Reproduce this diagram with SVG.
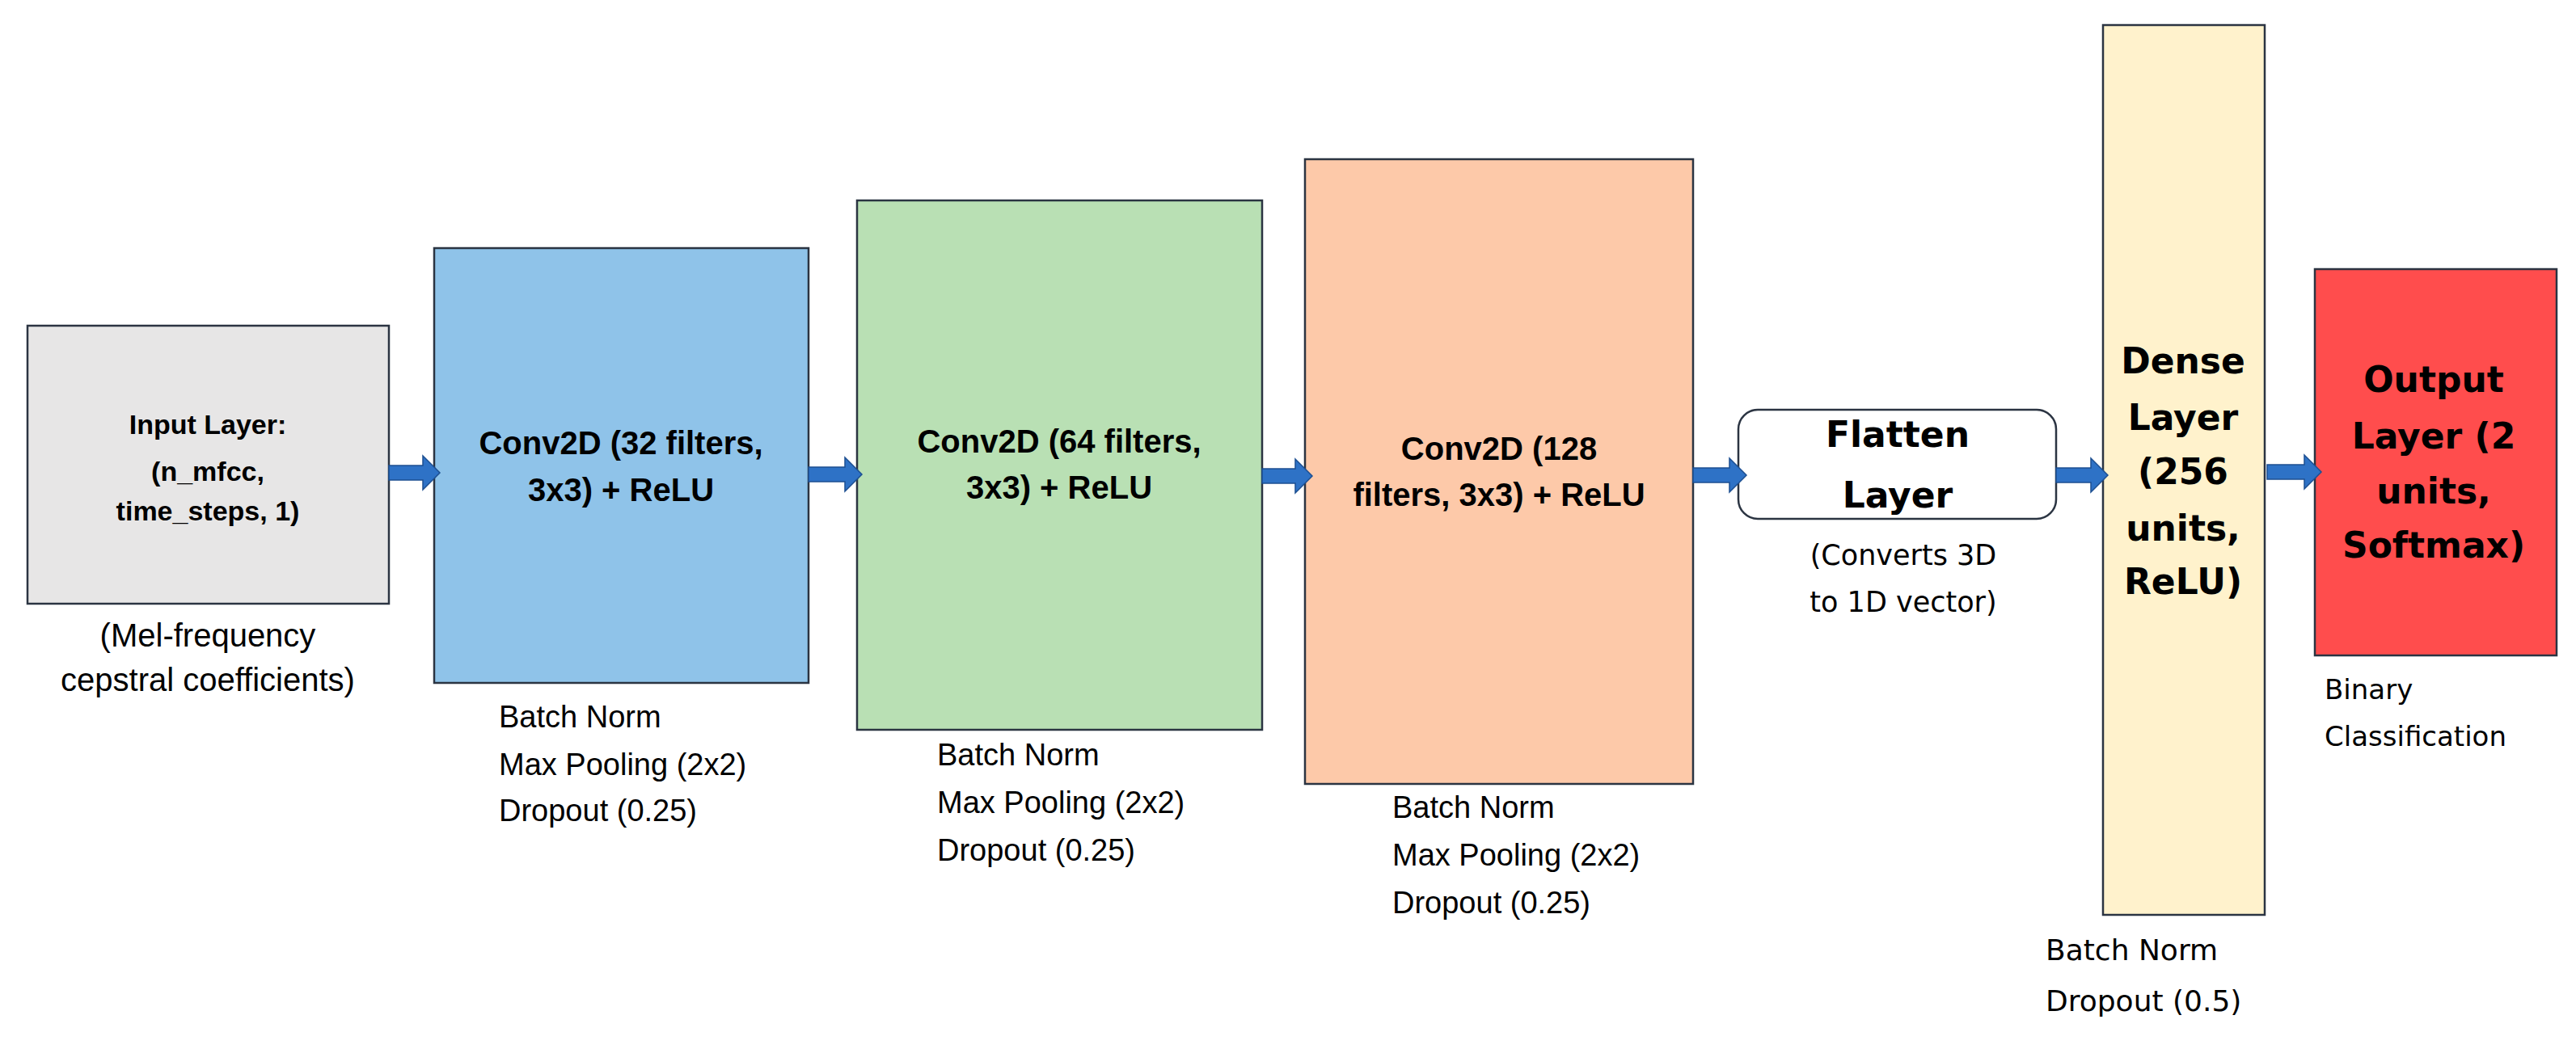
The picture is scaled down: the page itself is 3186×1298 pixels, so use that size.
<svg xmlns="http://www.w3.org/2000/svg" width="3186" height="1298" viewBox="0 0 3186 1298">
<style>
.box{stroke:#2b3442;stroke-width:2.5}
.c{font-family:"Liberation Sans",Arial,sans-serif;fill:#000}
.b{font-weight:bold}
.v{font-family:"DejaVu Sans",Verdana,sans-serif;fill:#000}
.arr{fill:#2e72c6;stroke:#1d4f91;stroke-width:1.5}
</style>
<rect width="3186" height="1298" fill="#fff"/>
<g id="input">
<rect class="box" x="34" y="403" width="447" height="344" fill="#e7e6e6"/>
<g class="c b" font-size="34" text-anchor="middle">
<text x="257" y="537">Input Layer:</text>
<text x="257" y="595">(n_mfcc,</text>
<text x="257" y="644">time_steps, 1)</text>
</g>
<g class="c" font-size="40" text-anchor="middle">
<text x="257" y="800">(Mel-frequency</text>
<text x="257" y="855">cepstral coefficients)</text>
</g>
</g>
<g id="conv1">
<rect class="box" x="537" y="307" width="463" height="538" fill="#8fc3e9"/>
<g class="c b" font-size="40" text-anchor="middle">
<text x="768" y="562">Conv2D (32 filters,</text>
<text x="768" y="620">3x3) + ReLU</text>
</g>
<g class="c" font-size="38">
<text x="617" y="900">Batch Norm</text>
<text x="617" y="959">Max Pooling (2x2)</text>
<text x="617" y="1016">Dropout (0.25)</text>
</g>
</g>
<g id="conv2">
<rect class="box" x="1060" y="248" width="501" height="655" fill="#b9e0b4"/>
<g class="c b" font-size="40" text-anchor="middle">
<text x="1310" y="560">Conv2D (64 filters,</text>
<text x="1310" y="617">3x3) + ReLU</text>
</g>
<g class="c" font-size="38">
<text x="1159" y="947">Batch Norm</text>
<text x="1159" y="1006">Max Pooling (2x2)</text>
<text x="1159" y="1065">Dropout (0.25)</text>
</g>
</g>
<g id="conv3">
<rect class="box" x="1614" y="197" width="480" height="773" fill="#fdc9a9"/>
<g class="c b" font-size="40" text-anchor="middle">
<text x="1854" y="569">Conv2D (128</text>
<text x="1854" y="626">filters, 3x3) + ReLU</text>
</g>
<g class="c" font-size="38">
<text x="1722" y="1012">Batch Norm</text>
<text x="1722" y="1071">Max Pooling (2x2)</text>
<text x="1722" y="1130">Dropout (0.25)</text>
</g>
</g>
<g id="flatten">
<rect class="box" x="2150" y="507" width="393" height="135" rx="24" fill="#fff"/>
<g class="v b" font-size="44" text-anchor="middle">
<text x="2347" y="553">Flatten</text>
<text x="2347" y="628">Layer</text>
</g>
<g class="v" font-size="35" text-anchor="middle">
<text x="2354" y="699">(Converts 3D</text>
<text x="2354" y="757">to 1D vector)</text>
</g>
</g>
<g id="dense">
<rect class="box" x="2601" y="31" width="200" height="1101" fill="#fff2cc"/>
<g class="v b" font-size="44" text-anchor="middle">
<text x="2700" y="462">Dense</text>
<text x="2700" y="532">Layer</text>
<text x="2700" y="599">(256</text>
<text x="2700" y="669">units,</text>
<text x="2700" y="735">ReLU)</text>
</g>
<g class="v" font-size="36">
<text x="2530" y="1188">Batch Norm</text>
<text x="2530" y="1251">Dropout (0.5)</text>
</g>
</g>
<g id="output">
<rect class="box" x="2863" y="333" width="299" height="478" fill="#ff4d4d"/>
<g class="v b" font-size="44" text-anchor="middle">
<text x="3010" y="485">Output</text>
<text x="3010" y="555">Layer (2</text>
<text x="3010" y="623">units,</text>
<text x="3010" y="690">Softmax)</text>
</g>
<g class="v" font-size="34">
<text x="2875" y="865">Binary</text>
<text x="2875" y="923">Classification</text>
</g>
</g>
<g id="connectors">
<path class="arr" transform="translate(481,585)" d="M0,-9 H42 V-21 L63,0 L42,21 V9 H0 Z"/>
<path class="arr" transform="translate(1000,587)" d="M0,-9 H45 V-21 L66,0 L45,21 V9 H0 Z"/>
<path class="arr" transform="translate(1561,589)" d="M0,-9 H41 V-21 L62,0 L41,21 V9 H0 Z"/>
<path class="arr" transform="translate(2094,588)" d="M0,-9 H45 V-21 L66,0 L45,21 V9 H0 Z"/>
<path class="arr" transform="translate(2543,588)" d="M0,-9 H43 V-21 L64,0 L43,21 V9 H0 Z"/>
<path class="arr" transform="translate(2804,584)" d="M0,-9 H46 V-21 L67,0 L46,21 V9 H0 Z"/>
</g>
</svg>
